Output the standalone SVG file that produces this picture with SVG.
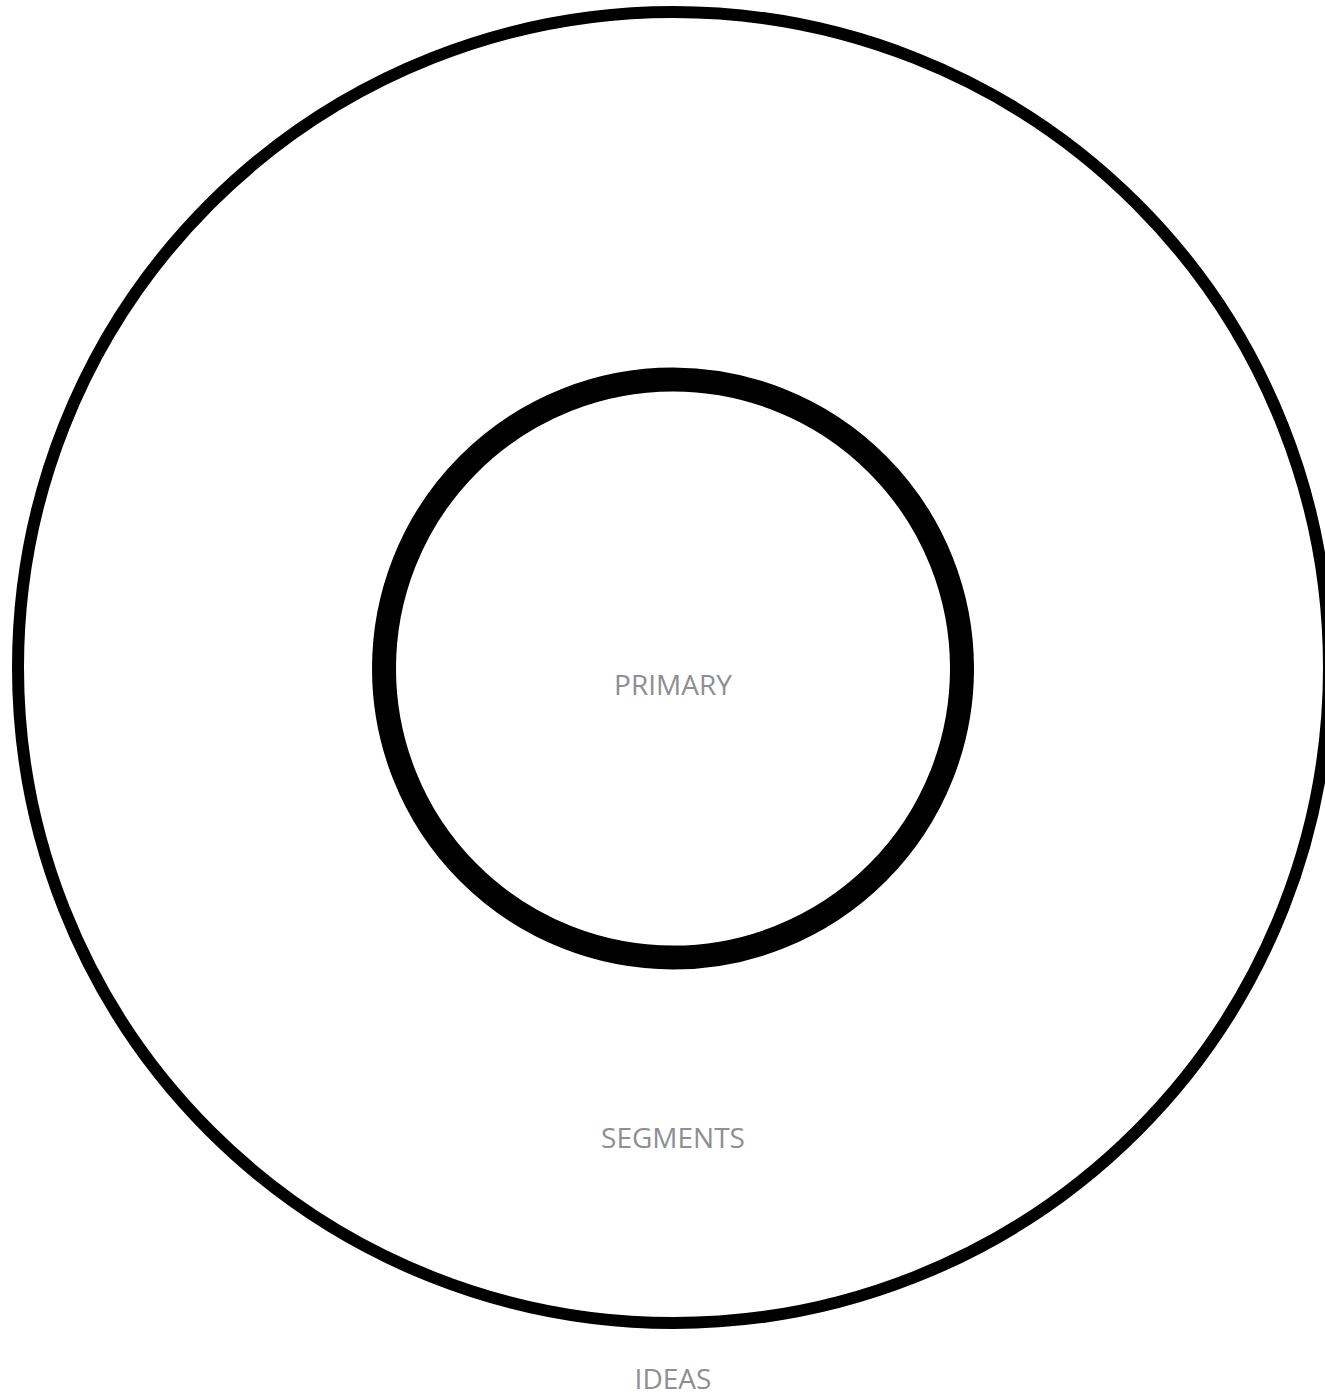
<svg xmlns="http://www.w3.org/2000/svg" width="1325" height="1395" viewBox="0 0 1325 1395">
<style>
.ring{fill:none;stroke:#000}
.lbl{font-family:"Open Sans","Liberation Sans",sans-serif;font-size:28px;fill:#8e8e93;text-anchor:middle}
</style>
<rect width="1325" height="1395" fill="#fff"/>
<g id="ideas">
<circle class="ring" cx="673.5" cy="667.5" r="655.5" stroke-width="12"/>
<text class="lbl" x="673" y="1389">IDEAS</text>
</g>
<g id="segments">
<text class="lbl" x="673" y="1148">SEGMENTS</text>
</g>
<g id="primary">
<circle class="ring" cx="673" cy="668.5" r="289" stroke-width="24"/>
<text class="lbl" x="673" y="695">PRIMARY</text>
</g>
<g id="connectors"></g>
</svg>
